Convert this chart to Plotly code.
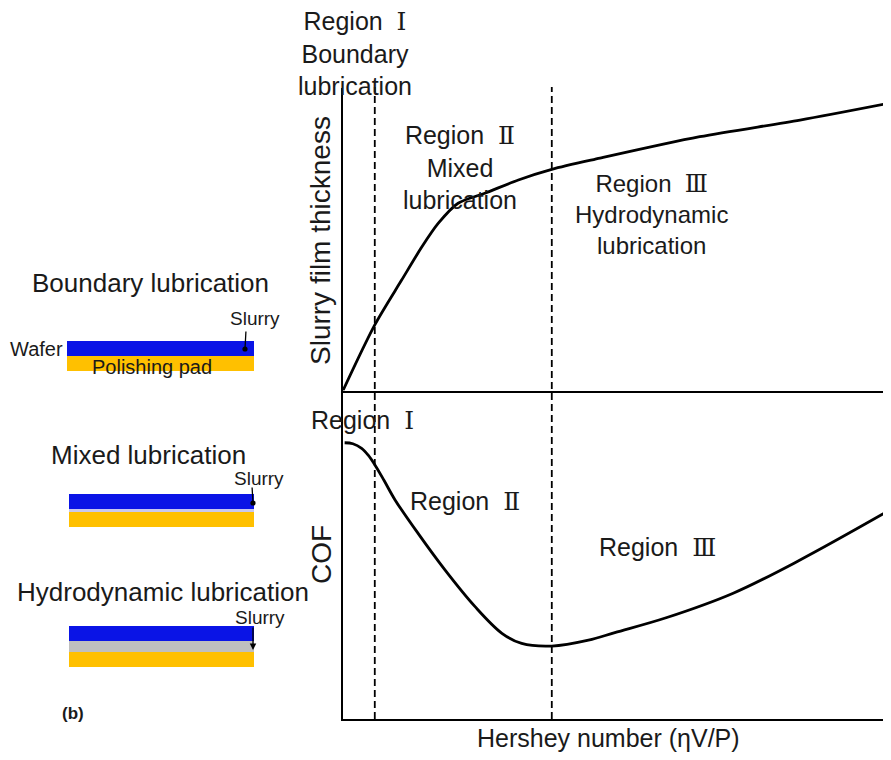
import plotly.graph_objects as go

# ---------------- data ----------------
# Hershey number (arbitrary units, 0-100 across the axis)
film_x = [0, 5.8, 10.7, 14.4, 17.4, 21.0, 25.9, 32.0, 38.1, 46.9, 65.1, 83.4, 100]
film_y = [0, 21.7, 36.5, 47.5, 55.3, 61.9, 65.2, 69.6, 73.1, 76.8, 83.9, 89.4, 95.1]

cof_x = [0.3, 1.8, 3.4, 4.6, 5.8, 7.5, 9.5, 13.7, 18.6, 24.1, 29.0, 32.6, 38.1, 44.8, 49.6, 59.1, 71.2, 83.4, 100]
cof_y = [84.1, 83.8, 82.4, 80.3, 77.4, 72.6, 66.7, 56.5, 45.4, 34.2, 26.1, 23.0, 22.2, 24.0, 26.3, 30.9, 38.3, 48.4, 63.8]

region_bounds = [5.8, 38.1]

regimes = ["Boundary lubrication", "Mixed lubrication", "Hydrodynamic lubrication"]
slurry_gap_px = [0, 3, 11]          # schematic slurry layer thickness

# page offset (body margin) compensation
OFF = 8
W, H = 891 - OFF, 760 - 2 * OFF
def px(x):
    return (x - OFF) / W
def py(y):
    return 1 - (y - OFF) / H

FONT = "Liberation Sans, Arial, DejaVu Sans, sans-serif"
TXT = "#1a1a1a"
def rn(s):
    return f"<span style='font-family:DejaVu Serif'>{s}</span>"

fig = go.Figure()
fig.add_trace(go.Scatter(x=film_x, y=film_y, mode="lines", line=dict(color="black", width=2.8, shape="spline", smoothing=0.8),
                         xaxis="x", yaxis="y", showlegend=False, cliponaxis=False, hoverinfo="skip"))
fig.add_trace(go.Scatter(x=cof_x, y=cof_y, mode="lines", line=dict(color="black", width=2.8, shape="spline", smoothing=1.0),
                         xaxis="x2", yaxis="y2", showlegend=False, cliponaxis=False, hoverinfo="skip"))

xdom = [px(343), 1]
top_dom = [py(390.5), py(88)]
bot_dom = [py(719), py(390.5)]
ax_common = dict(showline=True, linecolor="black", linewidth=2, showgrid=False, zeroline=False,
                 showticklabels=False, ticks="", range=[0, 100], fixedrange=True)

fig.update_layout(
    width=W, height=H, margin=dict(l=0, r=0, t=0, b=0),
    paper_bgcolor="white", plot_bgcolor="white",
    font=dict(family=FONT, color=TXT),
    xaxis=dict(domain=xdom, anchor="y", **ax_common),
    yaxis=dict(domain=top_dom, anchor="x", **ax_common),
    xaxis2=dict(domain=xdom, anchor="y2", **ax_common),
    yaxis2=dict(domain=bot_dom, anchor="x2", **ax_common),
)

shapes = []
for b in region_bounds:
    shapes.append(dict(type="line", xref="x", yref="paper", x0=b, x1=b, y0=py(719), y1=py(87),
                       line=dict(color="black", width=1.8, dash="7px,4px")))

# schematic layers
wafer_top = [341, 494, 626]
layer_h = 15
for i, g in enumerate(slurry_gap_px):
    x0, x1 = (67 if i == 0 else 69), 254
    t = wafer_top[i]
    shapes.append(dict(type="rect", xref="paper", yref="paper", x0=px(x0), x1=px(x1), y0=py(t + layer_h), y1=py(t),
                       fillcolor="#0a14e6", line=dict(width=0), layer="below"))
    if g > 0:
        shapes.append(dict(type="rect", xref="paper", yref="paper", x0=px(x0), x1=px(x1), y0=py(t + layer_h + g), y1=py(t + layer_h),
                           fillcolor=("#c8c8ee" if g < 5 else "#bfbfbf"), line=dict(width=0), layer="below"))
    shapes.append(dict(type="rect", xref="paper", yref="paper", x0=px(x0), x1=px(x1), y0=py(t + 2 * layer_h + g), y1=py(t + layer_h + g),
                       fillcolor="#ffc000", line=dict(width=0), layer="below"))
fig.update_layout(shapes=shapes)

ann = []
def text(x, y, s, size=24, xanchor="center", **kw):
    ann.append(dict(x=px(x), y=py(y), xref="paper", yref="paper", text=s, showarrow=False,
                    xanchor=xanchor, yanchor="middle", font=dict(size=size, family=FONT, color=TXT), **kw))

SP = "\u00a0 "
# region labels, top panel
text(355, 54, f"Region{SP}{rn('Ⅰ')}<br>Boundary<br>lubrication", size=25)
text(460, 167, f"Region{SP}{rn('Ⅱ')}<br>Mixed<br>lubrication", size=25)
text(651, 215, f"Region{SP}{rn('Ⅲ')}<br>Hydrodynamic<br>lubrication", size=24)
# region labels, bottom panel
text(362, 421, f"Region{SP}{rn('Ⅰ')}", size=25)
text(465, 501, f"Region{SP}{rn('Ⅱ')}", size=25)
text(657, 547, f"Region{SP}{rn('Ⅲ')}", size=25)
# axis titles
text(320, 241, "Slurry film thickness", size=28, textangle=-90)
text(321, 555, "COF", size=28, textangle=-90)
text(608, 738, "Hershey number (ηV/P)", size=25)
text(73, 713, "<b>(b)</b>", size=17)

# schematic titles
title_pos = [(150, 283), (148, 455), (163, 592)]
for (x, y), r in zip(title_pos, regimes):
    text(x, y, r, size=26)
text(65, 349, "Wafer", size=20, xanchor="right")
text(152, 367, "Polishing pad", size=20)
slurry_txt = [(255, 318), (259, 478), (260, 617)]
for x, y in slurry_txt:
    text(x, y, "Slurry", size=19)

# slurry pointers
ann.append(dict(x=px(245), y=py(349), xref="paper", yref="paper", ax=1, ay=-19, text="", showarrow=True,
                arrowhead=6, arrowsize=1, arrowwidth=1.3, arrowcolor="black"))
ann.append(dict(x=px(253), y=py(503), xref="paper", yref="paper", ax=-1, ay=-17, text="", showarrow=True,
                arrowhead=6, arrowsize=1, arrowwidth=1.3, arrowcolor="black"))
ann.append(dict(x=px(253), y=py(650), xref="paper", yref="paper", ax=0, ay=-24, text="", showarrow=True,
                arrowhead=2, arrowsize=1, arrowwidth=1.3, arrowcolor="black"))
fig.update_layout(annotations=ann)

fig.write_html("out.html")
